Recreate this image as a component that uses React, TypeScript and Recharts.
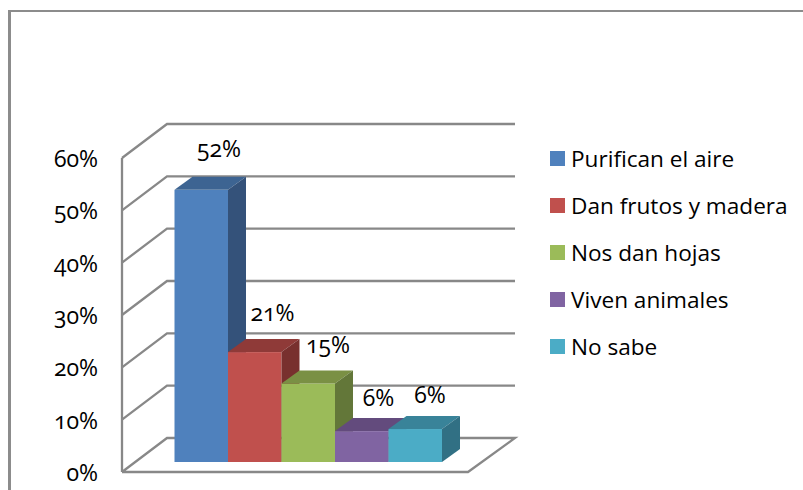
import React from "react";
import { BarChart, Bar, XAxis, YAxis, CartesianGrid, Legend, LabelList } from "recharts";

const seriesNames = ["Purifican el aire", "Dan frutos y madera", "Nos dan hojas", "Viven animales", "No sabe"];
const seriesValues = [52, 21, 15, 5.9, 6.3];
const yTicks = [0, 10, 20, 30, 40, 50, 60];
const frontColors = ["#4f81bd", "#c0504d", "#9bbb59", "#8064a2", "#4bacc6"];
const topColors = ["#3d6492", "#8f3a38", "#7a9044", "#634b7d", "#398399"];
const sideColors = ["#34527a", "#78302e", "#637739", "#553f6c", "#317084"];
const labelNudgeX = [0, 0, 2, -1, -3];
const labelNudgeY = [-11, -9, -9, -3, -4];

const row: Record<string, string | number> = { name: "" };
seriesNames.forEach((n, i) => { row[n] = seriesValues[i]; });
const data = [row];

const FONT = "'Open Sans', sans-serif";
const GRID = "#888888";
const SHIFT_X = 13, SHIFT_Y = -10, DX = 18, DY = -13;
const STEP_FIX = 0.5;

const makeShape = (i: number) => (p: any) => {
  const x = p.x + SHIFT_X + i * STEP_FIX, y = p.y + SHIFT_Y, w = p.width + STEP_FIX, h = p.height;
  return (
    <g>
      <rect x={x} y={y} width={w} height={h} fill={frontColors[i]} />
      <polygon points={`${x},${y} ${x + DX},${y + DY} ${x + w + DX},${y + DY} ${x + w},${y}`} fill={topColors[i]} />
      <polygon points={`${x + w},${y} ${x + w + DX},${y + DY} ${x + w + DX},${y + h + DY} ${x + w},${y + h}`} fill={sideColors[i]} />
    </g>
  );
};

const makeLabel = (i: number) => (p: any) => (
  <text
    x={p.x + p.width / 2 + SHIFT_X + i * STEP_FIX + 18 + labelNudgeX[i]}
    y={p.y + SHIFT_Y - 28 + labelNudgeY[i]}
    textAnchor="middle"
    dominantBaseline="middle"
    fontFamily={FONT}
    fontSize={23}
    fill="#000"
  >
    {Math.round(Number(p.value))}%
  </text>
);

const gridLine = (p: any) => {
  const { x1, x2, y1, index } = p;
  const isFloor = index === 0;
  const d = isFloor
    ? `M${x1},${y1} L${x2},${y1} L${x2 + 47},${y1 - 34} L${x1 + 45},${y1 - 34} L${x1},${y1}`
    : `M${x1},${y1} L${x1 + 45},${y1 - 34} L${x2 + 47},${y1 - 34}`;
  return <path key={index} d={d} fill="none" stroke={GRID} strokeWidth={2.3} />;
};

const LegendContent = (p: any) => (
  <div style={{ fontFamily: FONT, fontSize: 22.6, color: "#000" }}>
    {(p.payload || []).map((e: any) => (
      <div key={e.value} style={{ height: 47, display: "flex", alignItems: "center", whiteSpace: "nowrap" }}>
        <span style={{ width: 15, height: 15, background: e.color, marginRight: 6, display: "inline-block" }} />
        {e.value}
      </div>
    ))}
  </div>
);

export default function App() {
  return (
    <div style={{ position: "absolute", left: 0, top: 0, width: 803, height: 490, background: "#fff", overflow: "hidden", fontVariantNumeric: "oldstyle-nums", fontFeatureSettings: "'onum' 1" }}>
      <div style={{ position: "absolute", left: 8, top: 10, width: 800, height: 490, borderTop: "2px solid #8c8c8c", borderLeft: "3px solid #8c8c8c" }} />
      <div style={{ position: "absolute", left: 0, top: 0 }}>
        <BarChart
          width={803}
          height={490}
          data={data}
          margin={{ top: 158, bottom: 18, left: 0, right: 85 }}
          barCategoryGap={39.5}
          barGap={0}
        >
          <CartesianGrid vertical={false} horizontal={gridLine} />
          <XAxis dataKey="name" hide />
          <YAxis
            width={122}
            domain={[0, 60]}
            ticks={yTicks}
            tickFormatter={(v: number) => `${v}%`}
            tickLine={false}
            tickSize={0}
            tickMargin={24}
            axisLine={{ stroke: GRID, strokeWidth: 2.3 }}
            tick={{ fontFamily: FONT, fontSize: 23, fill: "#000", dy: 1 }}
            interval={0}
          />
          <Legend
            layout="vertical"
            align="right"
            verticalAlign="top"
            itemSorter={null as any}
            content={LegendContent}
            wrapperStyle={{ position: "absolute", left: 550, top: 135, width: 250 }}
          />
          {seriesNames.map((n, i) => (
            <Bar key={n} dataKey={n} fill={frontColors[i]} isAnimationActive={false} shape={makeShape(i)}>
              <LabelList dataKey={n} content={makeLabel(i)} />
            </Bar>
          ))}
        </BarChart>
      </div>
    </div>
  );
}
